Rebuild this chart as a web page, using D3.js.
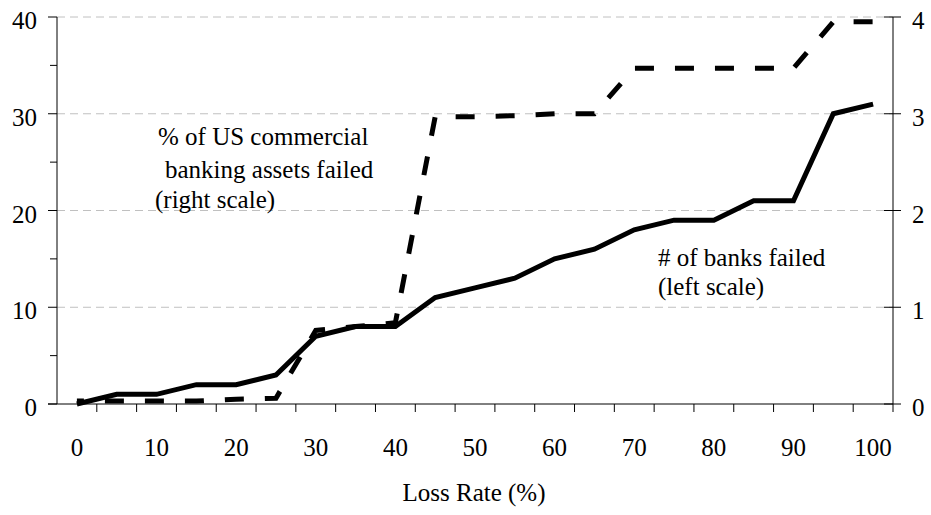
<!DOCTYPE html>
<html>
<head>
<meta charset="utf-8">
<script src="https://cdn.jsdelivr.net/npm/d3@7"></script>
<style>
  html, body { margin: 0; padding: 0; background: #fff; }
</style>
</head>
<body>
<svg id="chart" width="931" height="515" font-family="'Liberation Serif', serif"></svg>
<script>
/* ── DATA ───────────────────────────────────────── */
const lossRates   = [0, 5, 10, 15, 20, 25, 30, 35, 40, 45, 50, 55, 60, 65, 70, 75, 80, 85, 90, 95, 100];
const banksFailed = [0, 1, 1, 2, 2, 3, 7, 8, 8, 11, 12, 13, 15, 16, 18, 19, 19, 21, 21, 30, 31];
const assetsPct   = [0.03, 0.03, 0.03, 0.03, 0.05, 0.06, 0.76, 0.8, 0.84, 2.97, 2.97, 2.98, 3.0, 3.0, 3.47, 3.47, 3.47, 3.47, 3.47, 3.95, 3.95];
const leftTicks   = [0, 10, 20, 30, 40];
const rightTicks  = [0, 1, 2, 3, 4];
const xLabels     = [0, 10, 20, 30, 40, 50, 60, 70, 80, 90, 100];

/* ── LAYOUT ─────────────────────────────────────── */
const svg = d3.select('#chart');
const L = 57, R = 893, T = 17, B = 404;
const FS = 25;

const x = d3.scaleBand().domain(lossRates).range([L, R]);
const cx = v => x(v) + x.bandwidth() / 2;
const yL = d3.scaleLinear().domain([0, 40]).range([B, T]);
const yR = d3.scaleLinear().domain([0, 4]).range([B, T]);

/* gridlines */
svg.append('g').selectAll('line').data(leftTicks.filter(d => d > 0)).enter().append('line')
  .attr('x1', L).attr('x2', R).attr('y1', d => yL(d)).attr('y2', d => yL(d))
  .attr('stroke', '#c0c0c0').attr('stroke-width', 1).attr('stroke-dasharray', '8 5');

/* left axis */
const gL = svg.append('g').attr('transform', 'translate(' + L + ',0)');
gL.append('line').attr('y1', T).attr('y2', B).attr('stroke', '#000');
gL.selectAll('.minor').data(d3.range(5, 40, 10)).enter().append('line')
  .attr('x1', -7).attr('x2', 0).attr('y1', d => yL(d)).attr('y2', d => yL(d)).attr('stroke', '#000');
gL.selectAll('.major').data(leftTicks).enter().append('line')
  .attr('x1', -9).attr('x2', 0).attr('y1', d => yL(d)).attr('y2', d => yL(d)).attr('stroke', '#000');
gL.selectAll('text').data(leftTicks).enter().append('text')
  .attr('x', -20).attr('y', d => yL(d) + 12)
  .attr('text-anchor', 'end').attr('font-size', FS).text(d => d);

/* right axis */
const gR = svg.append('g').attr('transform', 'translate(' + R + ',0)');
gR.append('line').attr('y1', T).attr('y2', B + 8).attr('stroke', '#000');
gR.selectAll('.tick').data(rightTicks).enter().append('line')
  .attr('x1', -9).attr('x2', 8).attr('y1', d => yR(d)).attr('y2', d => yR(d)).attr('stroke', '#000');
gR.selectAll('text').data(rightTicks).enter().append('text')
  .attr('x', 19).attr('y', d => yR(d) + 12)
  .attr('font-size', FS).text(d => d);

/* x axis */
const gX = svg.append('g');
gX.append('line').attr('x1', L - 9).attr('x2', R).attr('y1', B).attr('y2', B).attr('stroke', '#000');
gX.selectAll('.tick').data(lossRates.slice(1)).enter().append('line')
  .attr('x1', d => x(d)).attr('x2', d => x(d)).attr('y1', B).attr('y2', B + 8).attr('stroke', '#000');
gX.selectAll('text').data(xLabels).enter().append('text')
  .attr('x', d => cx(d)).attr('y', 456).attr('text-anchor', 'middle')
  .attr('font-size', FS).text(d => d);
svg.append('text').attr('x', 474).attr('y', 501).attr('text-anchor', 'middle')
  .attr('font-size', FS).text('Loss Rate (%)');

/* series */
const lineL = d3.line().x((d, i) => cx(lossRates[i])).y(d => yL(d));
const lineR = d3.line().x((d, i) => cx(lossRates[i])).y(d => yR(d));

svg.append('path').datum(assetsPct).attr('d', lineR)
  .attr('fill', 'none').attr('stroke', '#000').attr('stroke-width', 5)
  .attr('stroke-dasharray', '19 21').attr('stroke-dashoffset', 12);

svg.append('path').datum(banksFailed).attr('d', lineL)
  .attr('fill', 'none').attr('stroke', '#000').attr('stroke-width', 5)
  .attr('stroke-linejoin', 'miter');

/* annotations */
const notes = [
  { t: '% of US commercial',     x: 158, y: 145 },
  { t: 'banking assets failed',  x: 165, y: 178 },
  { t: '(right scale)',          x: 155, y: 208 },
  { t: '# of banks failed',      x: 658, y: 266 },
  { t: '(left scale)',           x: 658, y: 295 }
];
svg.selectAll('.note').data(notes).enter().append('text')
  .attr('x', d => d.x).attr('y', d => d.y).attr('font-size', FS).text(d => d.t);
</script>
</body>
</html>
